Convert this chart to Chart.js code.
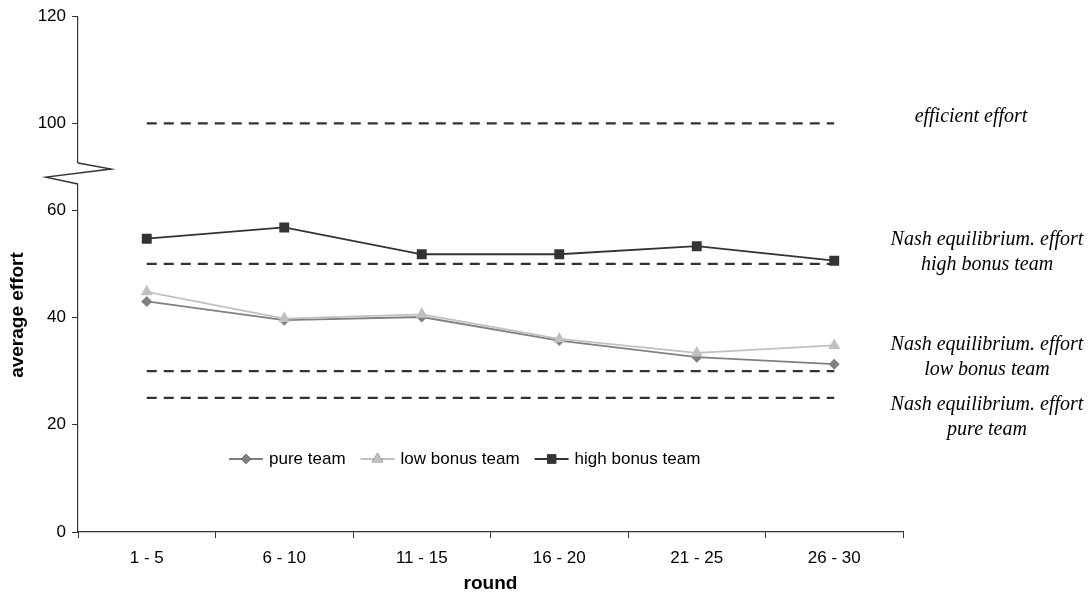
<!DOCTYPE html>
<html>
<head>
<meta charset="utf-8">
<script src="https://cdn.jsdelivr.net/npm/chart.js@4.4.1/dist/chart.umd.min.js"></script>
<style>
  body { margin: 0; background: #fff; }
</style>
</head>
<body>
<canvas id="effortChart" width="1091" height="595"></canvas>
<script>
const categories = ["1 - 5", "6 - 10", "11 - 15", "16 - 20", "21 - 25", "26 - 30"];
const pureTeam = [43.0, 39.5, 40.1, 35.7, 32.6, 31.3];
const lowBonusTeam = [44.8, 39.8, 40.6, 36.0, 33.4, 34.8];
const highBonusTeam = [54.7, 56.8, 51.8, 51.8, 53.3, 50.6];
const yTickLabels = [0, 20, 40, 60, 100, 120];
const refLevels = [100, 50, 30, 25];
const refNotes = [
  ["efficient effort"],
  ["Nash equilibrium. effort", "high bonus team"],
  ["Nash equilibrium. effort", "low bonus team"],
  ["Nash equilibrium. effort", "pure team"]
];

// the axis is broken between 60 and 100: everything above the break is shifted down
const BREAK_FROM = 80;
const BREAK_SHIFT = 23.8;
function toAxis(v) {
  return v > BREAK_FROM ? v - BREAK_SHIFT : v;
}

const sansFont = '"Liberation Sans", Arial, sans-serif';
const serifFont = '"Liberation Serif", "Times New Roman", serif';

function flat(level) {
  return categories.map(() => toAxis(level));
}

const seriesDefs = [
  { label: "high bonus team", data: highBonusTeam, color: "#333333", style: "rect", radius: 7 },
  { label: "low bonus team", data: lowBonusTeam, color: "#c0c0c0", style: "triangle", radius: 7 },
  { label: "pure team", data: pureTeam, color: "#808080", style: "rectRot", radius: 5.5 }
];

const datasets = seriesDefs.map((s) => ({
  label: s.label,
  data: s.data.map(toAxis),
  borderColor: s.color,
  backgroundColor: s.color,
  borderWidth: 1.8,
  pointStyle: s.style,
  pointRadius: s.radius,
  pointBorderWidth: 0,
  tension: 0
}));

refLevels.forEach((lvl) => {
  datasets.push({
    label: "ref " + lvl,
    data: flat(lvl),
    borderColor: "#333333",
    borderWidth: 2.2,
    borderDash: [10, 7],
    pointRadius: 0
  });
});

// broken-axis zigzag, y title, legend and the notes on the right
const decorations = {
  id: "decorations",
  afterDraw(chart) {
    const ctx = chart.ctx;
    const area = chart.chartArea;
    const y = chart.scales.y;
    const x0 = area.left;

    // axis break
    const gapTop = y.getPixelForValue(68.8);
    const gapBottom = y.getPixelForValue(64.9);
    ctx.save();
    ctx.fillStyle = "#fff";
    ctx.fillRect(x0 - 3, gapTop, 6, gapBottom - gapTop);
    ctx.strokeStyle = "#333";
    ctx.lineWidth = 1.5;
    ctx.beginPath();
    ctx.moveTo(x0, gapTop);
    ctx.lineTo(x0 + 33, gapTop + 6);
    ctx.lineTo(x0 - 32, gapTop + 14);
    ctx.lineTo(x0, gapBottom);
    ctx.stroke();
    ctx.restore();

    // y title
    ctx.save();
    ctx.translate(18, 315);
    ctx.rotate(-Math.PI / 2);
    ctx.font = "bold 19px " + sansFont;
    ctx.fillStyle = "#000";
    ctx.textAlign = "center";
    ctx.textBaseline = "middle";
    ctx.fillText("average effort", 0, 0);
    ctx.restore();

    // legend, in the order pure, low, high
    ctx.save();
    ctx.font = "17px " + sansFont;
    ctx.textBaseline = "middle";
    let lx = area.left + 151;
    const ly = area.bottom - 73;
    seriesDefs.slice().reverse().forEach((s) => {
      ctx.strokeStyle = s.color;
      ctx.lineWidth = 1.8;
      ctx.beginPath();
      ctx.moveTo(lx, ly);
      ctx.lineTo(lx + 34, ly);
      ctx.stroke();
      Chart.helpers.drawPoint(ctx, {
        pointStyle: s.style,
        radius: s.radius - 0.5,
        rotation: 0,
        borderWidth: 0
      }, lx + 17, ly);
      ctx.fillStyle = s.color;
      ctx.fill();
      ctx.fillStyle = "#000";
      ctx.fillText(s.label, lx + 40, ly);
      lx += 40 + ctx.measureText(s.label).width + 15;
    });
    ctx.restore();

    // notes
    ctx.save();
    ctx.font = "italic 20px " + serifFont;
    ctx.fillStyle = "#000";
    ctx.textAlign = "center";
    ctx.textBaseline = "middle";
    const noteSpots = [[971, 117], [987, 240], [987, 345], [987, 405]];
    refNotes.forEach((lines, i) => {
      lines.forEach((t, j) => {
        ctx.fillText(t, noteSpots[i][0], noteSpots[i][1] + j * 25);
      });
    });
    ctx.restore();
  }
};

new Chart(document.getElementById("effortChart"), {
  type: "line",
  data: { labels: categories, datasets: datasets },
  options: {
    responsive: false,
    animation: false,
    layout: { padding: { left: 0, right: 188, top: 16, bottom: 0 } },
    plugins: {
      legend: { display: false },
      tooltip: { enabled: false }
    },
    scales: {
      x: {
        offset: true,
        grid: { offset: true, drawOnChartArea: false, drawTicks: true, tickLength: 6, color: "#333" },
        border: { display: true, color: "#333", width: 1.2 },
        ticks: { color: "#000", font: { family: sansFont, size: 17 }, padding: 10 },
        title: {
          display: true,
          text: "round",
          color: "#000",
          font: { family: sansFont, size: 19, weight: "bold" },
          padding: { top: 0, bottom: 0 }
        },
        afterFit(scale) { scale.height = 63; }
      },
      y: {
        min: 0,
        max: toAxis(120),
        afterBuildTicks(scale) {
          scale.ticks = yTickLabels.map((v) => ({ value: toAxis(v) }));
        },
        grid: { drawOnChartArea: false, drawTicks: true, tickLength: 6, color: "#333" },
        border: { display: true, color: "#333", width: 1.2 },
        ticks: {
          color: "#000",
          font: { family: sansFont, size: 17 },
          padding: 6,
          callback: (val, i) => yTickLabels[i]
        },
        afterFit(scale) { scale.width = 78; }
      }
    }
  },
  plugins: [decorations]
});
</script>
</body>
</html>
